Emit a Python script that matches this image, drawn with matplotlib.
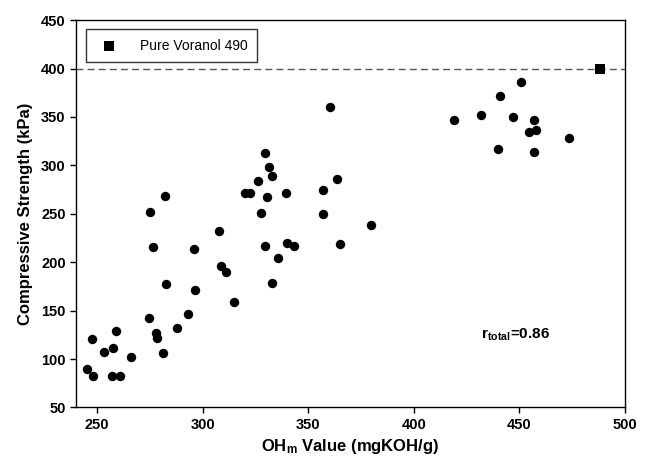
import matplotlib
matplotlib.use("Agg")
import matplotlib.pyplot as plt

plt.rcParams['font.family'] = ['Liberation Sans', 'DejaVu Sans']
plt.rcParams['font.weight'] = 'bold'
plt.rcParams['mathtext.fontset'] = 'custom'
plt.rcParams['mathtext.rm'] = 'Liberation Sans:bold'
plt.rcParams['mathtext.bf'] = 'Liberation Sans:bold'
plt.rcParams['mathtext.it'] = 'Liberation Sans:bold:italic'

oh_values = [245, 248, 247.4, 253, 257.4, 258.8, 256.8, 260.6, 266, 274.3, 278, 278.3,
             281.2, 287.8, 292.9, 315,
             275.1, 276.4, 282.3, 282.7, 295.7, 296.5, 307.6, 308.7, 311.2, 319.8, 322.6,
             326, 327.4, 329.7, 330.2, 331.5, 332.7, 329.7, 332.6, 335.7, 339.2, 340, 343.2,
             357.1, 357.1, 360.3, 363.8, 365, 379.9,
             418.9, 432, 440.9, 450.5, 447, 457.1, 454.5, 458, 439.8, 457.1, 473.6]
strength = [90, 82.5, 121, 107, 111.5, 129.3, 82, 82.5, 102, 142.5, 127.3, 122,
            106.6, 132.4, 146.6, 158.5,
            252.3, 215.5, 268.5, 177.6, 213.4, 171.4, 232, 196.2, 190.3, 271.3, 271.9,
            283.5, 250.6, 313.2, 267.1, 298.1, 289.2, 217.1, 178.3, 204.1, 271.9, 219.6, 216.8,
            274.7, 249.6, 360.1, 285.7, 218.9, 238.5,
            346.7, 352.2, 372.1, 386.6, 349.8, 347.3, 334.3, 336.3, 317, 313.9, 328.7]

pure_oh = [488]
pure_strength = [400]

x_ticks = [250, 300, 350, 400, 450, 500]
y_ticks = [50, 100, 150, 200, 250, 300, 350, 400, 450]

fig = plt.figure(figsize=(6.45, 4.65), dpi=100)
ax = fig.add_axes([0.118, 0.1237, 0.851, 0.833])

ax.axhline(pure_strength[0], color='#555555', linestyle=(0, (5, 3)), linewidth=1.0, zorder=1)
ax.scatter(oh_values, strength, s=46, color='black', marker='o', zorder=3, linewidths=0)
ax.scatter(pure_oh, pure_strength, s=50, color='black', marker='s', zorder=3, linewidths=0,
           label='Pure Voranol 490')

ax.set_xlim(240, 500)
ax.set_ylim(50, 450)
ax.set_xticks(x_ticks)
ax.set_yticks(y_ticks)
ax.tick_params(axis='both', direction='out', length=4, width=1, labelsize=10.5)
for sp in ax.spines.values():
    sp.set_linewidth(1.0)

ax.set_xlabel(r'OH$_{\mathrm{m}}$ Value (mgKOH/g)', fontsize=12, fontweight='bold', labelpad=4)
ax.set_ylabel('Compressive Strength (kPa)', fontsize=12, fontweight='bold', labelpad=6)

ax.text(432, 125, r'r$_{\mathrm{total}}$=0.86', fontsize=11, fontweight='bold',
        ha='left', va='center')

leg = ax.legend(loc='upper left', frameon=True, fancybox=False, edgecolor='black',
                prop={'size': 10, 'weight': 'normal'}, borderpad=0.7, handletextpad=1.2,
                bbox_to_anchor=(0.005, 0.995))
leg.get_frame().set_linewidth(1.0)

fig.savefig('out.png', dpi=100)
